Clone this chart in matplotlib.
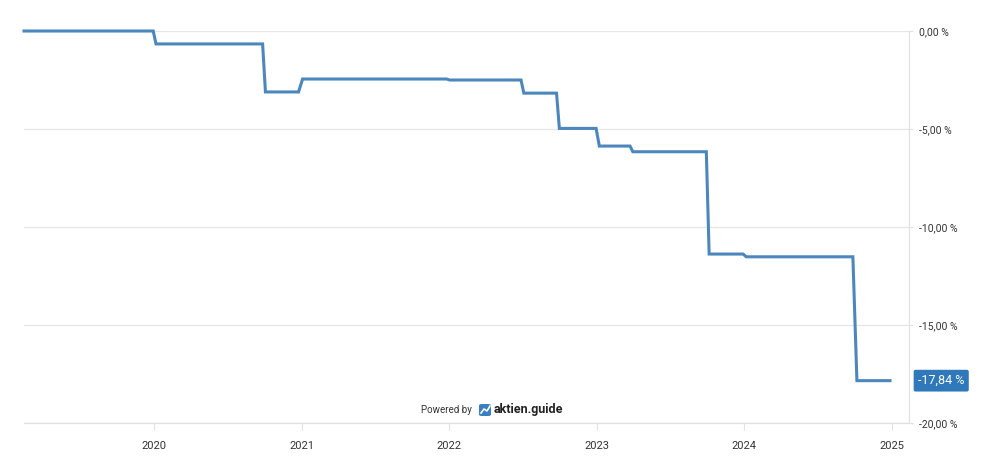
import matplotlib
matplotlib.use('Agg')
import matplotlib.pyplot as plt
from matplotlib.patches import FancyBboxPatch
import numpy as np
from datetime import datetime

plt.rcParams['font.family'] = ['Roboto', 'DejaVu Sans']

# step series: start and end date of each level
DATES = [
    "2019-02-13", "2019-12-30", "2020-01-06", "2020-09-26",
    "2020-10-03", "2020-12-24", "2021-01-03", "2021-12-26",
    "2022-01-02", "2022-06-28", "2022-07-05", "2022-09-24",
    "2022-10-01", "2022-12-31", "2023-01-08", "2023-03-25",
    "2023-04-01", "2023-09-30", "2023-10-07", "2023-12-30",
    "2024-01-07", "2024-09-27", "2024-10-07", "2024-12-28",
]
VALUES = [
    0.00, 0.00, -0.66, -0.66,
    -3.11, -3.11, -2.45, -2.45,
    -2.50, -2.50, -3.17, -3.17,
    -4.97, -4.97, -5.87, -5.87,
    -6.16, -6.16, -11.38, -11.38,
    -11.52, -11.52, -17.84, -17.84,
]
Y_TICKS = [0, -5, -10, -15, -20]
Y_LABELS = ["0,00 %", "-5,00 %", "-10,00 %", "-15,00 %", "-20,00 %"]
X_YEARS = [2020, 2021, 2022, 2023, 2024, 2025]
LAST_LABEL = "-17,84 %"

W, H = 989, 461
fig = plt.figure(figsize=(W / 100, H / 100), dpi=100)
fig.patch.set_facecolor('white')
ax = fig.add_axes([24 / W, (H - 423) / H, 885 / W, 392 / H])

x = [datetime.strptime(d, "%Y-%m-%d") for d in DATES]
ax.plot(x, VALUES, color='#4b87bd', linewidth=2.2, solid_joinstyle='miter',
        clip_on=False, zorder=3)

ax.set_xlim(datetime(2019, 2, 13), datetime(2025, 2, 13))
ax.set_ylim(-20, 0)

ax.yaxis.tick_right()
ax.set_yticks(Y_TICKS)
ax.set_yticklabels(Y_LABELS)
ax.set_xticks([datetime(y, 1, 1) for y in X_YEARS])
ax.set_xticklabels([str(y) for y in X_YEARS])
ax.tick_params(axis='y', length=3, width=0.8, color='#e2e2e2', pad=4,
               labelsize=7.5, labelcolor='#333333')
ax.tick_params(axis='x', length=5, width=0.8, color='#e2e2e2', pad=8,
               labelsize=8, labelcolor='#333333')

ax.grid(axis='y', color='#e6e6e6', linewidth=0.9)
for s in ['top', 'left']:
    ax.spines[s].set_visible(False)
ax.spines['right'].set_color('#e2e2e2')
ax.spines['bottom'].set_color('#e2e2e2')
ax.spines['right'].set_linewidth(0.9)
ax.spines['bottom'].set_linewidth(0.9)

# last value badge on the right axis
ax.annotate(LAST_LABEL, xy=(1, VALUES[-1]), xycoords=('axes fraction', 'data'),
            xytext=(6.5, 0), textcoords='offset points', ha='left', va='center',
            color='white', fontsize=9,
            bbox=dict(boxstyle='round,pad=0.35,rounding_size=0.15',
                      fc='#2f78b9', ec='none'),
            annotation_clip=False)

# watermark
fig.text(472 / W, 1 - 410 / H, "Powered by", ha='right', va='center',
         fontsize=7, color='#333333')
icon = FancyBboxPatch((479 / W, 1 - 416 / H), 12 / W, 12 / H,
                      boxstyle='round,pad=0,rounding_size=0.003',
                      transform=fig.transFigure, fc='#3a7fc0', ec='none')
fig.patches.append(icon)
fig.lines.append(plt.Line2D(np.array([481, 484, 487, 490]) / W,
                            1 - np.array([413, 409, 411, 406]) / H,
                            transform=fig.transFigure, color='white', lw=1.2))
fig.text(494 / W, 1 - 409 / H, "aktien.guide", ha='left', va='center',
         fontsize=9, fontweight='bold', color='#222222')

fig.savefig('out.png', dpi=100)
